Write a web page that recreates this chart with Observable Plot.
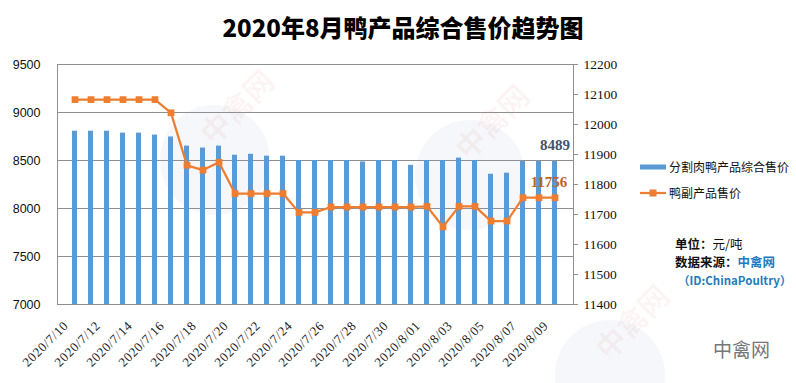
<!DOCTYPE html>
<html><head><meta charset="utf-8">
<script src="https://cdn.jsdelivr.net/npm/d3@7"></script>
<script src="https://cdn.jsdelivr.net/npm/@observablehq/plot@0.6"></script>
<style>body{margin:0;background:#fff}#chart{width:796px;height:383px}</style>
</head><body><div id="chart"></div>
<script>
const dates = ["2020/7/10","2020/7/11","2020/7/12","2020/7/13","2020/7/14","2020/7/15","2020/7/16","2020/7/17","2020/7/18","2020/7/19","2020/7/20","2020/7/21","2020/7/22","2020/7/23","2020/7/24","2020/7/25","2020/7/26","2020/7/27","2020/7/28","2020/7/29","2020/7/30","2020/7/31","2020/8/01","2020/8/02","2020/8/03","2020/8/04","2020/8/05","2020/8/06","2020/8/07","2020/8/08","2020/8/09"];
const cutMeatPrice = [8805,8805,8805,8785,8785,8765,8745,8650,8630,8650,8555,8565,8545,8545,8500,8500,8500,8500,8485,8500,8500,8450,8500,8500,8525,8500,8357,8368,8489,8489,8489];
const byproductPrice = [12083,12083,12083,12083,12083,12083,12039,11864,11848,11874,11770,11770,11770,11770,11707,11707,11725,11725,11725,11725,11725,11725,11727,11659,11727,11727,11678,11678,11756,11756,11756];
const leftTicks = [7000,7500,8000,8500,9000,9500];
const rightTicks = [11400,11500,11600,11700,11800,11900,12000,12100,12200];
const xTickLabels = ["2020/7/10","2020/7/12","2020/7/14","2020/7/16","2020/7/18","2020/7/20","2020/7/22","2020/7/24","2020/7/26","2020/7/28","2020/7/30","2020/8/01","2020/8/03","2020/8/05","2020/8/07","2020/8/09"];
const seriesNames = ["分割肉鸭产品综合售价","鸭副产品售价"];
const titleText = "2020年8月鸭产品综合售价趋势图";

const L0 = 7000, L1 = 9500, R0 = 11400, R1 = 12200;
const toLeft = v => L0 + (v - R0) * (L1 - L0) / (R1 - R0);
const toRight = v => R0 + (v - L0) * (R1 - R0) / (L1 - L0);
const data = dates.map((date, i) => ({date, bar: cutMeatPrice[i], line: byproductPrice[i], lineL: toLeft(byproductPrice[i])}));
const last = data[data.length - 1];

const blue = "#5b9bd5", orange = "#ed7d31", grid = "#8f8f8f";
const serif = "'Liberation Serif', 'Times New Roman', serif";
const cjk = "'Noto Sans CJK SC', sans-serif";

const svg = Plot.plot({
  width: 796, height: 383,
  marginLeft: 57, marginRight: 223, marginTop: 64, marginBottom: 79,
  style: {background: "transparent", fontFamily: "'Liberation Sans', Arial, sans-serif", overflow: "visible"},
  x: {type: "band", domain: dates, paddingInner: 0.66, paddingOuter: 0.33, axis: null, label: null},
  y: {domain: [L0, L1], axis: null, label: null},
  marks: [
    Plot.gridY(leftTicks, {stroke: grid, strokeOpacity: 1}),
    Plot.barY(data, {x: "date", y1: L0, y2: "bar", fill: blue}),
    Plot.line(data, {x: "date", y: "lineL", stroke: orange, strokeWidth: 2.25}),
    Plot.dot(data, {x: "date", y: "lineL", symbol: "square", r: 3.8, fill: orange, stroke: null}),
    Plot.frame({stroke: grid}),
    Plot.axisY(leftTicks, {anchor: "left", label: null, tickSize: 0, tickPadding: 17, tickFormat: d => String(d), fontSize: 12.5, fill: "#111"}),
    Plot.axisY(rightTicks.map(toLeft), {anchor: "right", label: null, tickSize: 4, tickPadding: 6, stroke: grid, tickFormat: d => String(Math.round(toRight(d))), fontSize: 13.5, fontFamily: serif, fill: "#111"}),
    Plot.axisX(xTickLabels, {anchor: "bottom", label: null, tickSize: 0, tickPadding: 10, dx: -9, dy: 9, tickRotate: -45, tickFormat: d => d, fontSize: 13, fontFamily: serif, fill: "#222"}),
    Plot.text([last], {x: "date", y: "bar", text: d => String(d.bar), dy: -16, fill: "#44546a", fontWeight: "bold", fontFamily: serif, fontSize: 15}),
    Plot.text([last], {x: "date", y: "lineL", text: d => String(d.line), dx: -6, dy: -16, fill: "#c0651f", fontWeight: "bold", fontFamily: serif, fontSize: 15})
  ]
});
document.getElementById("chart").appendChild(svg);

const s = d3.select(svg);
s.selectAll('g[aria-label="x-axis tick label"] text').style("letter-spacing", "0.6px");

// faint watermarks behind everything
const wm = s.insert("g", ":first-child").attr("font-family", cjk).attr("font-weight", "bold").attr("text-anchor", "middle");
[[245, 115], [500, 130], [640, 330]].forEach(([x, y]) => {
  wm.append("circle").attr("cx", x - 30).attr("cy", y + 45).attr("r", 55).attr("fill", "#dfe3ee").attr("fill-opacity", 0.3);
  wm.append("text").attr("transform", `translate(${x},${y}) rotate(-45)`).attr("font-size", 30).attr("fill", "#d9534f").attr("fill-opacity", 0.06).text("中禽网");
});

// title
s.append("text").attr("x", 403).attr("y", 37).attr("text-anchor", "middle")
  .attr("font-family", cjk).attr("font-weight", 900).attr("font-size", 24).attr("fill", "#000").text(titleText);

// legend
const lg = s.append("g").attr("font-family", cjk).attr("font-size", 12).attr("fill", "#111").attr("text-anchor", "start");
lg.append("rect").attr("x", 640).attr("y", 164.5).attr("width", 26).attr("height", 5).attr("fill", blue);
lg.append("text").attr("x", 669).attr("y", 171.5).text(seriesNames[0]);
lg.append("line").attr("x1", 640).attr("x2", 666).attr("y1", 193).attr("y2", 193).attr("stroke", orange).attr("stroke-width", 2.25);
lg.append("rect").attr("x", 649.5).attr("y", 189.5).attr("width", 7).attr("height", 7).attr("fill", orange);
lg.append("text").attr("x", 669).attr("y", 197.5).text(seriesNames[1]);

// notes
const nt = s.append("g").attr("font-family", cjk).attr("font-size", 12.5).attr("fill", "#111").attr("text-anchor", "start");
const t1 = nt.append("text").attr("x", 675).attr("y", 248.5);
t1.append("tspan").attr("font-weight", "bold").text("单位：");
t1.append("tspan").text("元/吨");
const t2 = nt.append("text").attr("x", 675).attr("y", 267).attr("font-weight", "bold");
t2.append("tspan").text("数据来源：");
t2.append("tspan").attr("fill", "#1f7bbf").text("中禽网");
nt.append("text").attr("x", 678).attr("y", 285).attr("font-size", 11.5).attr("font-weight", "bold").attr("fill", "#1f7bbf").text("（ID:ChinaPoultry）");

// bottom-right brand
s.append("text").attr("x", 713).attr("y", 357).attr("text-anchor", "start").attr("font-family", cjk).attr("font-size", 19).attr("fill", "#777").text("中禽网");
</script></body></html>
